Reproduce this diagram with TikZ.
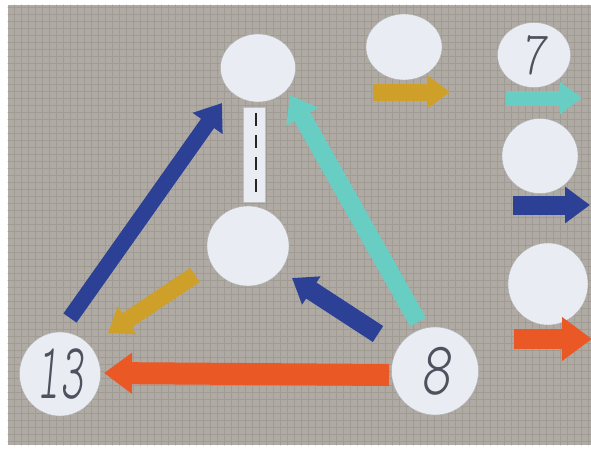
\documentclass[tikz,border=0pt]{standalone}
\usepackage{fontspec}
\usepackage{graphicx}
\usetikzlibrary{arrows.meta,shapes.geometric}
\newfontfamily\pencilfont{lmmonoproplt10-oblique.otf}

\begin{document}
\begin{tikzpicture}[x=1pt, y=-1pt, line cap=round, line join=round]

    \definecolor{carpet}{RGB}{175,171,164}
    \definecolor{weave}{RGB}{160,156,148}
    \definecolor{discwhite}{RGB}{233,237,243}
    \definecolor{mynavy}{RGB}{44,64,150}
    \definecolor{mycyan}{RGB}{104,206,196}
    \definecolor{myyellow}{RGB}{206,160,42}
    \definecolor{myorange}{RGB}{234,88,38}
    \definecolor{pencil}{RGB}{78,82,94}

    \useasboundingbox[fill=white] (0,0) rectangle (591,450);
    \fill[carpet] (8,5) rectangle (591,445);
    \draw[weave, line width=0.9pt, step=7pt] (8,5) grid (591,445);

    \tikzset{
      disc/.style={
        ellipse, fill=discwhite, draw=black!30, line width=0.4pt,
        inner sep=0pt, text=pencil, font=\pencilfont
      },
      paper/.style={line cap=butt, line join=miter},
      bighead/.style={-{Triangle[length=#1, width=1.4*#1]}}
    }

    \node[disc, minimum width=75pt, minimum height=68pt] (top) at (258,68) {};
    \node[disc, minimum width=82pt, minimum height=80pt] (centre) at (248,246) {};
    \node[disc, minimum width=81pt, minimum height=84pt] (thirteen) at (60,374)
      {\scalebox{0.55}[1]{\fontsize{80}{80}\selectfont 13}};
    \node[disc, minimum width=87pt, minimum height=88pt] (eight) at (435,371)
      {\scalebox{0.75}[1]{\fontsize{76}{76}\selectfont 8}};

    \node[disc, minimum width=76pt, minimum height=66pt] (spare) at (404,47) {};
    \node[disc, minimum width=73pt, minimum height=65pt] (seven) at (534,55)
      {\scalebox{0.75}[1]{\fontsize{62}{62}\selectfont 7}};
    \node[disc, minimum width=76pt, minimum height=75pt] (rowb) at (540,156) {};
    \node[disc, minimum width=80pt, minimum height=82pt] (rowc) at (548,284) {};

    \node[fill=discwhite, draw=black!25, line width=0.4pt, inner sep=0pt,
      minimum width=22pt, minimum height=95pt] (road) at (254,154.5) {};
    \draw[black!85, line width=2pt, line cap=butt, dash pattern=on 13pt off 9pt]
      ([xshift=2pt, yshift=-6pt]road.north) -- ([xshift=2pt, yshift=6pt]road.south);

    \coordinate (upA) at (70,318);
    \coordinate (upB) at (222,103);
    \coordinate (backA) at (418,322);
    \coordinate (backB) at (290,95);
    \coordinate (downA) at (195,275);
    \coordinate (downB) at (108,333);
    \coordinate (inA) at (378,334);
    \coordinate (inB) at (292,278);
    \coordinate (baseA) at (389,375);
    \coordinate (baseB) at (104,373);

    \draw[mynavy, paper, line width=16pt, bighead=25pt] (upA) -- (upB);
    \draw[mycyan, paper, line width=18pt, bighead=25pt] (backA) -- (backB);
    \draw[myyellow, paper, line width=17pt, bighead=23pt] (downA) -- (downB);
    \draw[mynavy, paper, line width=19pt, bighead=23pt] (inA) -- (inB);
    \draw[myorange, paper, line width=22pt, bighead=28pt] (baseA) -- (baseB);

    \coordinate (keyA) at (373,92);
    \coordinate (keyB) at (450,92);
    \coordinate (keyC) at (506,98);
    \coordinate (keyD) at (582,98);
    \coordinate (keyE) at (513,205);
    \coordinate (keyF) at (590,205);
    \coordinate (keyG) at (514,339);
    \coordinate (keyH) at (592,339);

    \draw[myyellow, paper, line width=17pt, bighead=23pt] (keyA) -- (keyB);
    \draw[mycyan, paper, line width=15pt, bighead=22pt] (keyC) -- (keyD);
    \draw[mynavy, paper, line width=19pt, bighead=25pt] (keyE) -- (keyF);
    \draw[myorange, paper, line width=20pt, bighead=30pt] (keyG) -- (keyH);

  \end{tikzpicture}
\end{document}
